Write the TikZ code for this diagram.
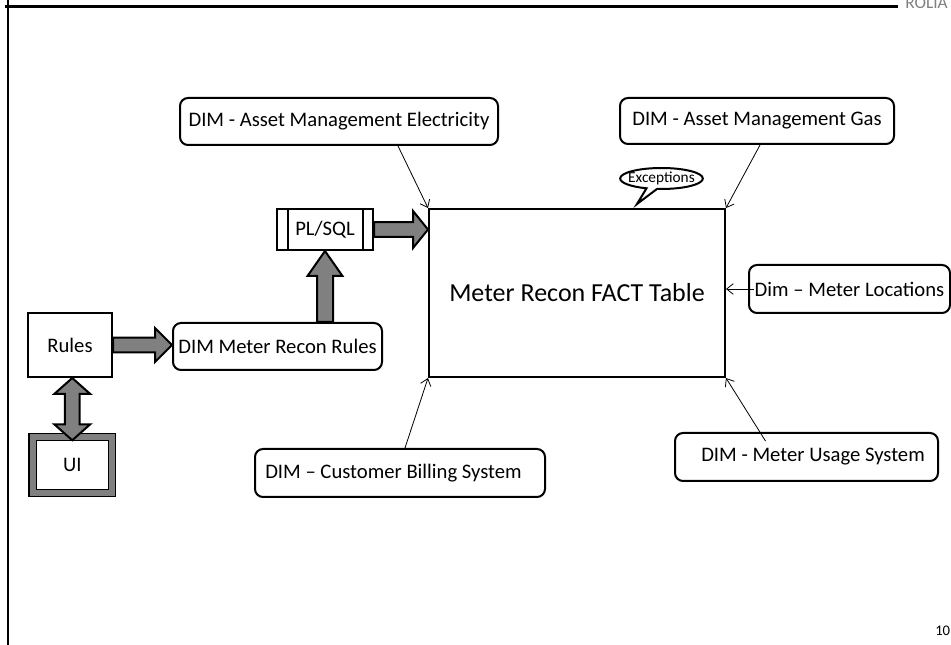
\documentclass[tikz,border=0pt]{standalone}
\usepackage{fontspec}
\setmainfont{Carlito}
\usetikzlibrary{calc,arrows.meta,shapes.callouts}

% grey block arrow: from, to, half shaft, half head, head length
\newcommand\fatarrow[5]{%
  \coordinate (fa) at ($(#2)!#5!(#1)$);
  \draw[fat] ($(#1)!#3!90:(#2)$) -- ($(fa)!#3!-90:(#1)$) -- ($(fa)!#4!-90:(#1)$)
    -- (#2) -- ($(fa)!#4!90:(#1)$) -- ($(fa)!#3!90:(#1)$) -- ($(#1)!#3!-90:(#2)$) -- cycle;}
% same with a head at both ends
\newcommand\fatdarrow[5]{%
  \coordinate (fa) at ($(#1)!#5!(#2)$);
  \coordinate (fb) at ($(#2)!#5!(#1)$);
  \draw[fat] (#1) -- ($(fa)!#4!90:(#2)$) -- ($(fa)!#3!90:(#2)$) -- ($(fb)!#3!-90:(#1)$)
    -- ($(fb)!#4!-90:(#1)$) -- (#2) -- ($(fb)!#4!90:(#1)$) -- ($(fb)!#3!90:(#1)$)
    -- ($(fa)!#3!-90:(#2)$) -- ($(fa)!#4!-90:(#2)$) -- cycle;}

\begin{document}
\begin{tikzpicture}[x=0.75pt,y=-0.75pt]

    \tikzset{
      dimbox/.style={
        draw,
        line width=1.5pt,
        rounded corners=6pt,
        inner sep=1.5pt,
        font=\fontsize{15.5}{18}\selectfont,
      },
      plainbox/.style={
        draw,
        line width=1.5pt,
        font=\fontsize{15.5}{18}\selectfont,
      },
      fat/.style={draw, line width=1.5pt, fill=gray, line join=miter},
      conn/.style={-{Straight Barb[length=5pt,width=8pt]}, line width=0.6pt},
    }
    \useasboundingbox (0,0) rectangle (951,645);
    \clip (0,0) rectangle (951,645);

    % slide frame
    \draw[line width=2.2pt] (5,6.5) -- (898,6.5);
    \draw[line width=1.5pt] (8,0) -- (8,645);
    \node[anchor=base west, inner sep=0pt, text=gray, font=\fontsize{13}{13}\selectfont] (logo) at (905,9) {ROLIA};
    \node[anchor=west, inner sep=0pt, font=\fontsize{11}{13}\selectfont] (pageno) at (935,631) {10};

    % fact table and its dimensions
    \node[plainbox, minimum width=222pt, minimum height=126pt, font=\fontsize{19.5}{23}\selectfont] (fact) at (577,293) {Meter Recon FACT Table};
    \node[dimbox, minimum width=238.5pt, minimum height=35.25pt] (elec) at (339,121.5) {DIM - Asset Management Electricity};
    \node[dimbox, minimum width=205.5pt, minimum height=34.5pt] (gas) at (757,121) {DIM - Asset Management Gas};
    \node[dimbox, minimum width=150.75pt, minimum height=36pt] (loc) at (849.5,289) {Dim -- Meter Locations};
    \node[dimbox, minimum width=197.25pt, minimum height=36pt] (usage) at (806.5,457) {\hspace*{9.75pt}DIM - Meter Usage System};
    \node[dimbox, minimum width=217.5pt, minimum height=36pt] (billing) at (400,473) {DIM -- Customer Billing System\hspace*{9.75pt}};
    \node[draw, line width=1.5pt, ellipse callout, inner xsep=-4pt, inner ysep=-0.5pt,
          minimum width=62pt, minimum height=15.75pt, font=\fontsize{11.5}{13}\selectfont,
          callout absolute pointer={($(fact.north)+(60,-4)$)}] (exc) at (661.5,178.5) {Exceptions};

    \draw[conn] ($(elec.south)+(59,0)$) -- (fact.north west);
    \draw[conn] ($(gas.south)+(3,0)$) -- (fact.north east);
    \draw[conn] ($(loc.west)+(6,0)$) -- (fact.east |- loc.west);
    \draw[conn] ($(billing.north)+(5,0)$) -- (fact.south west);
    \draw[conn] ($(usage.north)+(-41,9)$) -- (fact.south east);

    % rules feed
    \node[plainbox, minimum width=63pt, minimum height=48pt] (rules) at (70,345) {Rules};
    \node[plainbox, line width=1.1pt, double=gray, double distance=4.5pt,
          minimum width=59.6pt, minimum height=42pt] (ui) at (72.25,465) {UI};
    \node[dimbox, minimum width=156.75pt, minimum height=35.25pt] (dimrules) at (277.5,346.5) {DIM Meter Recon Rules};
    \node[plainbox, minimum width=72pt, minimum height=30.75pt] (plsql) at (325,229.5) {PL/SQL};
    \draw[line width=1.5pt] ($(plsql.north west)+(12,0)$) -- ($(plsql.south west)+(12,0)$);
    \draw[line width=1.5pt] ($(plsql.north east)+(-11,0)$) -- ($(plsql.south east)+(-11,0)$);

    \coordinate (rulesto) at (dimrules.west |- rules.east);
    \coordinate (plfrom) at (plsql.south |- dimrules.north);
    \coordinate (factin) at (fact.west |- plsql.east);
    \coordinate (uitop) at ($(ui.north)+(0,4)$);
    \coordinate (rulesbot) at (uitop |- rules.south);
    \fatarrow{rules.east}{rulesto}{5.6pt}{12.75pt}{12.75pt}
    \fatarrow{plfrom}{plsql.south}{6pt}{13.1pt}{18.75pt}
    \fatarrow{plsql.east}{factin}{5.6pt}{13.9pt}{11.25pt}
    \fatdarrow{rulesbot}{uitop}{5.6pt}{13.5pt}{12pt}

\end{tikzpicture}
\end{document}
